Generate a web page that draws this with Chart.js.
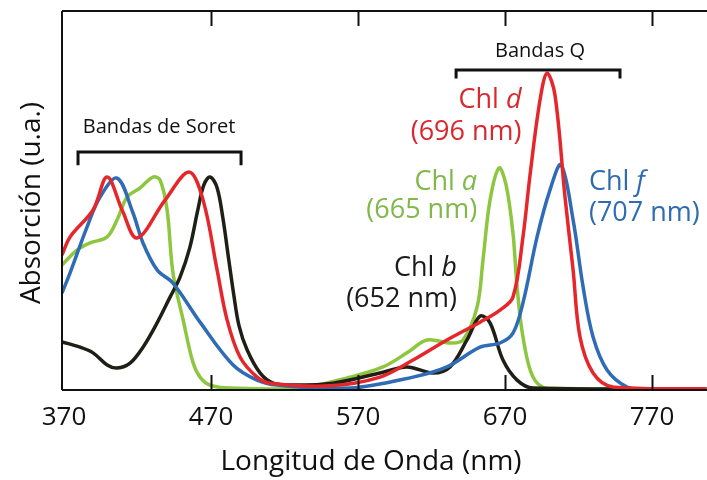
<!DOCTYPE html>
<html>
<head>
<meta charset="utf-8">
<script src="https://cdn.jsdelivr.net/npm/chart.js@4"></script>
<style>
  html, body { margin: 0; padding: 0; background: #fff; }
  #wrap { width: 707px; height: 480px; }
</style>
</head>
<body>
<div id="wrap"><canvas id="espectro"></canvas></div>
<script>
// ticks of the wavelength axis (nm)
const xTicks = [370, 470, 570, 670, 770];

// Chl a
const chlANm  = [368.6, 378.8, 387.7, 399.3, 406.1, 412.9, 421.7, 430.5, 435.3, 440.1, 444.1, 451, 457.8, 462.5, 469.3, 482.9, 530.5, 564.6, 587, 603.3, 616.9, 632.6, 641.4, 651, 655, 659.8, 665.9, 670.7, 675.4, 678.2, 682.2, 689, 698.6, 807];
const chlAAbs = [33, 36.9, 38.8, 40.4, 44.9, 50.9, 53.3, 56.2, 55.4, 47.5, 30.9, 18.5, 7.1, 3.4, 1.3, 0.5, 0.5, 3.4, 6.1, 9.8, 13.2, 12.4, 13.2, 21.9, 34.3, 50.1, 58.6, 54.1, 41.4, 27.2, 14, 3.4, 0.5, 0.3];

// Chl b
const chlBNm  = [368.6, 380.9, 389.7, 399.3, 406.1, 414.9, 423.7, 433.3, 442.1, 448.9, 455.5, 461, 465, 469.3, 474, 478, 482, 485.5, 489, 494.5, 503.3, 512.2, 523.7, 553, 587, 603.3, 621, 632.6, 644.1, 653, 659.8, 668.6, 678.2, 689, 807];
const chlBAbs = [12.7, 11.3, 9.8, 6.6, 5.8, 7.1, 11.3, 17.7, 24.5, 29.8, 37.5, 47.5, 54, 56.2, 53.5, 45.5, 34.5, 25, 17, 10.6, 4.5, 1.8, 1.3, 1.8, 4.7, 6.1, 4.5, 6.1, 13.2, 19.5, 17.7, 7.9, 2.6, 0.5, 0.3];

// Chl d
const chlDNm  = [368.6, 374.1, 389.7, 399.3, 409.5, 419.7, 438.7, 455, 464.6, 474.1, 480.9, 489.7, 501.3, 510.1, 551, 585, 607.4, 630.5, 653, 666.6, 675.4, 682.2, 687, 693.8, 698.6, 704, 710.8, 716.3, 721, 729.9, 743.5, 807];
const chlDAbs = [35.6, 40.4, 47.5, 56.2, 47.5, 40.1, 50.1, 57.5, 50.1, 31.7, 18.5, 8.7, 3.4, 1.8, 1.1, 3.4, 7.9, 13.2, 17.9, 21.1, 24.5, 40.4, 56.7, 76.5, 83.6, 77.8, 50.9, 31.7, 14, 4.5, 0.8, 0.3];

// Chl f
const chlFNm  = [368.6, 374.1, 385.6, 394.5, 406.1, 416.9, 423.7, 433.3, 444.1, 462.5, 485, 501.3, 514.9, 564.6, 607.4, 630.5, 653, 666.6, 675.4, 682.2, 691.8, 700.6, 708.1, 716.3, 723.1, 729.9, 739.4, 753, 766.6, 807];
const chlFAbs = [25.6, 30.9, 43, 50.9, 55.9, 46.7, 38.8, 31.7, 28.2, 17.9, 6.6, 2.6, 1.3, 0.5, 3.4, 6.1, 11.3, 12.4, 15, 23, 40.4, 52.8, 59.4, 44.9, 27.2, 14, 5.3, 0.8, 0, 0];

function pares(xs, ys) {
    return xs.map((x, i) => ({ x: x, y: ys[i] }));
}

const FONT = '"Open Sans", "DejaVu Sans", sans-serif';

// axes, ticks, brackets and labels
const decoracion = {
    id: 'decoracion',
    afterDatasetsDraw(chart) {
        const ctx = chart.ctx;
        const xs = chart.scales.x;
        const ys = chart.scales.y;
        const a = chart.chartArea;
        ctx.save();
        ctx.strokeStyle = '#111';
        ctx.lineWidth = 2;
        ctx.beginPath();
        ctx.moveTo(a.left, a.top); ctx.lineTo(a.right, a.top);
        ctx.moveTo(a.left, a.top); ctx.lineTo(a.left, a.bottom);
        ctx.moveTo(a.left, a.bottom); ctx.lineTo(a.right, a.bottom);
        xTicks.forEach(t => {
            if (t === xTicks[0]) return;
            const px = Math.round(xs.getPixelForValue(t)) + 0.5;
            ctx.moveTo(px, a.bottom); ctx.lineTo(px, a.bottom - 15);
            ctx.moveTo(px, a.top); ctx.lineTo(px, a.top + 15);
        });
        ctx.stroke();

        // tick labels
        ctx.fillStyle = '#111';
        ctx.font = '26px ' + FONT;
        ctx.textAlign = 'center';
        ctx.textBaseline = 'middle';
        xTicks.forEach(t => ctx.fillText(String(t), xs.getPixelForValue(t), a.bottom + 28));

        // axis titles
        ctx.font = '28px ' + FONT;
        ctx.fillText('Longitud de Onda (nm)', 371, a.bottom + 72);
        ctx.save();
        ctx.translate(32, 203);
        ctx.rotate(-Math.PI / 2);
        ctx.fillText('Absorción (u.a.)', 0, 0);
        ctx.restore();

        // brackets
        function corchete(x0, x1, y, y2) {
            const p0 = xs.getPixelForValue(x0), p1 = xs.getPixelForValue(x1);
            const py = ys.getPixelForValue(y), py2 = ys.getPixelForValue(y2);
            ctx.lineWidth = 3;
            ctx.beginPath();
            ctx.moveTo(p0, py2); ctx.lineTo(p0, py); ctx.lineTo(p1, py); ctx.lineTo(p1, py2);
            ctx.stroke();
        }
        corchete(379.5, 490.4, 62.8, 59.3);
        corchete(636.7, 748.2, 84.4, 82.2);
        ctx.font = '20px ' + FONT;
        ctx.fillText('Bandas de Soret', xs.getPixelForValue(434.6), ys.getPixelForValue(69.4));
        ctx.fillText('Bandas Q', xs.getPixelForValue(693.8), ys.getPixelForValue(89.4));

        // pigment labels: "Chl " + italic letter
        function etiqueta(letra, nm, x, y1, y2, color, alinea) {
            const px = xs.getPixelForValue(x);
            const f = '27px ' + FONT;
            ctx.fillStyle = color;
            ctx.textBaseline = 'middle';
            ctx.font = f;
            const w1 = ctx.measureText('Chl ').width;
            ctx.font = 'italic ' + f;
            const w2 = ctx.measureText(letra).width;
            const left = alinea === 'right' ? px - w1 - w2 : px;
            ctx.textAlign = 'left';
            ctx.font = f;
            ctx.fillText('Chl ', left, ys.getPixelForValue(y1));
            ctx.font = 'italic ' + f;
            ctx.fillText(letra, left + w1, ys.getPixelForValue(y1));
            ctx.font = f;
            ctx.textAlign = alinea;
            ctx.fillText(nm, px, ys.getPixelForValue(y2));
        }
        etiqueta('d', '(696 nm)', 681.2, 76.5, 68.1, '#d9272d', 'right');
        etiqueta('a', '(665 nm)', 651, 54.9, 47.3, '#80b84a', 'right');
        etiqueta('f', '(707 nm)', 727.1, 54.9, 46.7, '#2e6bb1', 'left');
        etiqueta('b', '(652 nm)', 637.3, 32.2, 24, '#1a1a1a', 'right');
        ctx.restore();
    }
};

const ctx = document.getElementById('espectro').getContext('2d');
new Chart(ctx, {
    type: 'scatter',
    data: {
        datasets: [
            { label: 'Chl d', data: pares(chlDNm, chlDAbs), borderColor: '#e5262b' },
            { label: 'Chl f', data: pares(chlFNm, chlFAbs), borderColor: '#2f6cb5' },
            { label: 'Chl b', data: pares(chlBNm, chlBAbs), borderColor: '#1f1f16' },
            { label: 'Chl a', data: pares(chlANm, chlAAbs), borderColor: '#8dc63f' }
        ].map(d => Object.assign(d, {
            showLine: true,
            pointRadius: 0,
            borderWidth: 3.5,
            tension: 0.35,
            fill: false
        }))
    },
    options: {
        responsive: true,
        maintainAspectRatio: false,
        animation: false,
        layout: { padding: { left: 62, top: 11, right: 0, bottom: 90 } },
        plugins: { legend: { display: false }, tooltip: { enabled: false } },
        scales: {
            x: {
                type: 'linear', display: false, min: 368.6, max: 807.4,
                afterBuildTicks: s => { s.ticks = xTicks.map(v => ({ value: v })); }
            },
            y: { type: 'linear', display: false, min: 0, max: 100 }
        }
    },
    plugins: [decoracion]
});
</script>
</body>
</html>
